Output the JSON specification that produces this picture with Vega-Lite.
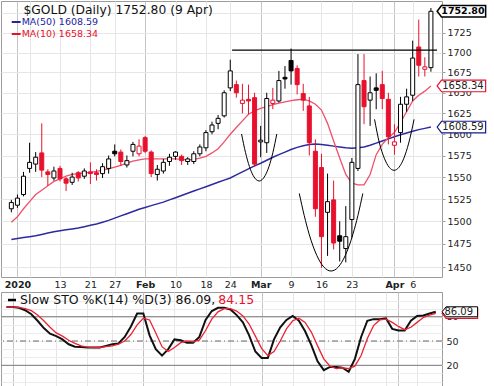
{
"$schema": "https://vega.github.io/schema/vega-lite/v6.json",
"padding": 0,
"background": "white",
"spacing": 2,
"config": {
 "font": "DejaVu Sans",
 "view": {"stroke": "#9c9c9c", "strokeWidth": 1},
 "axis": {"labelFont": "DejaVu Sans", "labelFontSize": 9.5, "labelColor": "#222222"},
 "axisX": {"labelOverlap": false},
 "axisY": {"labelOverlap": false}
},
"datasets": {
 "bars": [
{"i":-1,"date":"2019-12-31","o":1514,"h":1524,"l":1510,"c":1521,"ma10":1499,"ma50":1480,"k":92,"d":92},
{"i":0,"date":"2020-01-02","o":1518,"h":1530,"l":1515,"c":1526,"ma10":1505,"ma50":1481,"k":92,"d":92},
{"i":1,"date":"2020-01-03","o":1530,"h":1556,"l":1528,"c":1551,"ma10":1514,"ma50":1482,"k":91,"d":91.5},
{"i":2,"date":"2020-01-06","o":1560,"h":1590,"l":1555,"c":1567,"ma10":1522,"ma50":1483,"k":88,"d":90},
{"i":3,"date":"2020-01-07","o":1565,"h":1579,"l":1556,"c":1573,"ma10":1530,"ma50":1484,"k":83,"d":87.5},
{"i":4,"date":"2020-01-08","o":1578,"h":1613,"l":1550,"c":1558,"ma10":1535,"ma50":1485.5,"k":75,"d":82},
{"i":5,"date":"2020-01-09","o":1556,"h":1559,"l":1540,"c":1553,"ma10":1540,"ma50":1487,"k":66,"d":75},
{"i":6,"date":"2020-01-10","o":1549,"h":1562,"l":1546,"c":1557,"ma10":1545,"ma50":1488.5,"k":59,"d":67},
{"i":7,"date":"2020-01-13","o":1560,"h":1563,"l":1545,"c":1548,"ma10":1548,"ma50":1489.5,"k":56,"d":60},
{"i":8,"date":"2020-01-14","o":1548,"h":1550,"l":1534,"c":1543,"ma10":1551,"ma50":1490.5,"k":52,"d":56},
{"i":9,"date":"2020-01-15","o":1544,"h":1555,"l":1541,"c":1550,"ma10":1553,"ma50":1491.5,"k":46,"d":51},
{"i":10,"date":"2020-01-16","o":1555,"h":1557,"l":1545,"c":1549,"ma10":1554,"ma50":1492.5,"k":43,"d":47},
{"i":11,"date":"2020-01-17","o":1551,"h":1560,"l":1548,"c":1557,"ma10":1555,"ma50":1494,"k":42.5,"d":44},
{"i":12,"date":"2020-01-21","o":1556,"h":1567,"l":1542,"c":1554,"ma10":1555.5,"ma50":1495.5,"k":42,"d":42.5},
{"i":13,"date":"2020-01-22","o":1555,"h":1559,"l":1546,"c":1553,"ma10":1556.5,"ma50":1497,"k":42,"d":42},
{"i":14,"date":"2020-01-23","o":1554,"h":1566,"l":1549,"c":1562,"ma10":1558,"ma50":1499,"k":42,"d":42},
{"i":15,"date":"2020-01-24","o":1560,"h":1575,"l":1554,"c":1571,"ma10":1559.5,"ma50":1501,"k":44,"d":43},
{"i":16,"date":"2020-01-27","o":1580,"h":1588,"l":1574,"c":1577,"ma10":1561.5,"ma50":1503.5,"k":46,"d":44},
{"i":17,"date":"2020-01-28","o":1579,"h":1582,"l":1563,"c":1568,"ma10":1563.5,"ma50":1506,"k":47,"d":46},
{"i":18,"date":"2020-01-29","o":1564,"h":1575,"l":1561,"c":1569,"ma10":1566,"ma50":1508.5,"k":55,"d":50},
{"i":19,"date":"2020-01-30","o":1580,"h":1591,"l":1574,"c":1588,"ma10":1568.5,"ma50":1511,"k":68,"d":58},
{"i":20,"date":"2020-01-31","o":1577,"h":1594,"l":1574,"c":1586,"ma10":1570,"ma50":1513.5,"k":84,"d":70},
{"i":21,"date":"2020-02-03","o":1596,"h":1598,"l":1578,"c":1580,"ma10":1571,"ma50":1515.5,"k":84,"d":78},
{"i":22,"date":"2020-02-04","o":1579,"h":1581,"l":1550,"c":1554,"ma10":1571,"ma50":1517.5,"k":57,"d":76},
{"i":23,"date":"2020-02-05","o":1553,"h":1564,"l":1546,"c":1559,"ma10":1571,"ma50":1519.5,"k":40,"d":60},
{"i":24,"date":"2020-02-06","o":1557,"h":1571,"l":1554,"c":1567,"ma10":1571,"ma50":1521.5,"k":32,"d":43},
{"i":25,"date":"2020-02-07","o":1568,"h":1577,"l":1563,"c":1573,"ma10":1571,"ma50":1524,"k":40,"d":37},
{"i":26,"date":"2020-02-10","o":1574,"h":1580,"l":1570,"c":1579,"ma10":1571,"ma50":1526.5,"k":52,"d":42},
{"i":27,"date":"2020-02-11","o":1574,"h":1576,"l":1564,"c":1569,"ma10":1570.5,"ma50":1529,"k":51,"d":48},
{"i":28,"date":"2020-02-12","o":1568,"h":1573,"l":1564,"c":1571,"ma10":1570,"ma50":1531.5,"k":48,"d":50},
{"i":29,"date":"2020-02-13","o":1568,"h":1580,"l":1565,"c":1577,"ma10":1570.5,"ma50":1534,"k":48,"d":49},
{"i":30,"date":"2020-02-14","o":1577,"h":1588,"l":1574,"c":1585,"ma10":1572,"ma50":1536.5,"k":55,"d":51},
{"i":31,"date":"2020-02-18","o":1584,"h":1605,"l":1580,"c":1602,"ma10":1574,"ma50":1539,"k":76,"d":63},
{"i":32,"date":"2020-02-19","o":1603,"h":1615,"l":1600,"c":1611,"ma10":1578,"ma50":1541.5,"k":87,"d":77},
{"i":33,"date":"2020-02-20","o":1613,"h":1623,"l":1606,"c":1619,"ma10":1583,"ma50":1544,"k":91,"d":86},
{"i":34,"date":"2020-02-21","o":1622,"h":1653,"l":1620,"c":1650,"ma10":1591,"ma50":1546.5,"k":91,"d":90},
{"i":35,"date":"2020-02-24","o":1656,"h":1691,"l":1652,"c":1677,"ma10":1600,"ma50":1549,"k":89,"d":90},
{"i":36,"date":"2020-02-25","o":1660,"h":1665,"l":1644,"c":1650,"ma10":1608,"ma50":1552.5,"k":82,"d":87},
{"i":37,"date":"2020-02-26","o":1637,"h":1661,"l":1625,"c":1641,"ma10":1616,"ma50":1556,"k":73,"d":81},
{"i":38,"date":"2020-02-27","o":1642,"h":1660,"l":1624,"c":1640,"ma10":1624,"ma50":1559.5,"k":57,"d":71},
{"i":39,"date":"2020-02-28","o":1644,"h":1650,"l":1562,"c":1565,"ma10":1628,"ma50":1563,"k":37,"d":56},
{"i":40,"date":"2020-03-02","o":1591,"h":1610,"l":1573,"c":1593,"ma10":1631,"ma50":1566,"k":29,"d":41},
{"i":41,"date":"2020-03-03","o":1590,"h":1650,"l":1578,"c":1643,"ma10":1633,"ma50":1569.5,"k":29,"d":32},
{"i":42,"date":"2020-03-04","o":1637,"h":1656,"l":1630,"c":1641,"ma10":1635.5,"ma50":1573,"k":52,"d":37},
{"i":43,"date":"2020-03-05","o":1640,"h":1677,"l":1638,"c":1665,"ma10":1637.5,"ma50":1576,"k":67,"d":50},
{"i":44,"date":"2020-03-06","o":1669,"h":1683,"l":1655,"c":1667,"ma10":1639,"ma50":1579,"k":76,"d":65},
{"i":45,"date":"2020-03-09","o":1690,"h":1705,"l":1660,"c":1677,"ma10":1640.5,"ma50":1582,"k":81,"d":75},
{"i":46,"date":"2020-03-10","o":1680,"h":1684,"l":1648,"c":1660,"ma10":1641.5,"ma50":1584.5,"k":75,"d":78},
{"i":47,"date":"2020-03-11","o":1649,"h":1661,"l":1628,"c":1641,"ma10":1642,"ma50":1586.5,"k":62,"d":73},
{"i":48,"date":"2020-03-12","o":1634,"h":1645,"l":1575,"c":1590,"ma10":1640,"ma50":1588,"k":45,"d":61},
{"i":49,"date":"2020-03-13","o":1580,"h":1594,"l":1505,"c":1514,"ma10":1636,"ma50":1588.5,"k":25,"d":44},
{"i":50,"date":"2020-03-16","o":1561,"h":1577,"l":1449,"c":1483,"ma10":1629,"ma50":1588,"k":14,"d":28},
{"i":51,"date":"2020-03-17","o":1510,"h":1554,"l":1462,"c":1522,"ma10":1613,"ma50":1587,"k":18,"d":19},
{"i":52,"date":"2020-03-18","o":1524,"h":1546,"l":1469,"c":1476,"ma10":1592,"ma50":1586,"k":18,"d":16},
{"i":53,"date":"2020-03-19","o":1484,"h":1500,"l":1456,"c":1478,"ma10":1572,"ma50":1585,"k":17,"d":17},
{"i":54,"date":"2020-03-20","o":1470,"h":1517,"l":1455,"c":1483,"ma10":1553,"ma50":1584,"k":12,"d":16},
{"i":55,"date":"2020-03-23","o":1502,"h":1572,"l":1482,"c":1567,"ma10":1543,"ma50":1583.5,"k":28,"d":19},
{"i":56,"date":"2020-03-24","o":1560,"h":1698,"l":1557,"c":1660,"ma10":1541,"ma50":1584,"k":55,"d":32},
{"i":57,"date":"2020-03-25","o":1665,"h":1698,"l":1612,"c":1633,"ma10":1541,"ma50":1585,"k":75,"d":53},
{"i":58,"date":"2020-03-26","o":1641,"h":1670,"l":1610,"c":1650,"ma10":1553,"ma50":1587,"k":77,"d":69},
{"i":59,"date":"2020-03-27","o":1656,"h":1674,"l":1630,"c":1653,"ma10":1576,"ma50":1589.5,"k":77,"d":76},
{"i":60,"date":"2020-03-30","o":1660,"h":1677,"l":1630,"c":1643,"ma10":1588,"ma50":1592,"k":78,"d":77},
{"i":61,"date":"2020-03-31","o":1642,"h":1650,"l":1588,"c":1597,"ma10":1596,"ma50":1594.5,"k":65,"d":73},
{"i":62,"date":"2020-04-01","o":1587,"h":1612,"l":1576,"c":1591,"ma10":1602,"ma50":1597,"k":63,"d":68},
{"i":63,"date":"2020-04-02","o":1602,"h":1645,"l":1590,"c":1636,"ma10":1614,"ma50":1599.5,"k":63,"d":64},
{"i":64,"date":"2020-04-03","o":1636,"h":1655,"l":1627,"c":1645,"ma10":1627,"ma50":1601.5,"k":75,"d":67},
{"i":65,"date":"2020-04-06","o":1647,"h":1715,"l":1640,"c":1693,"ma10":1640,"ma50":1603.5,"k":81,"d":73},
{"i":66,"date":"2020-04-07","o":1707,"h":1742,"l":1670,"c":1684,"ma10":1647,"ma50":1605.5,"k":81.5,"d":79},
{"i":67,"date":"2020-04-08","o":1679,"h":1694,"l":1670,"c":1682,"ma10":1652,"ma50":1607,"k":84,"d":82},
{"i":68,"date":"2020-04-09","o":1681,"h":1757,"l":1676,"c":1752.8,"ma10":1658.34,"ma50":1608.59,"k":86.09,"d":84.15}
 ],
 "curves": [
{"g":1,"i":36.86,"p":1600.3},{"g":1,"i":37.51,"p":1578.4},{"g":1,"i":38.15,"p":1562.2},{"g":1,"i":38.79,"p":1551.5},{"g":1,"i":39.76,"p":1545.5},{"g":1,"i":40.72,"p":1551.5},{"g":1,"i":41.37,"p":1562.2},{"g":1,"i":42.01,"p":1578.4},{"g":1,"i":42.65,"p":1600.3},
{"g":2,"i":46.35,"p":1531.3},{"g":2,"i":47.16,"p":1506.6},{"g":2,"i":47.96,"p":1486.1},{"g":2,"i":49.24,"p":1462.4},{"g":2,"i":50.37,"p":1450.1},{"g":2,"i":51.58,"p":1445.7},{"g":2,"i":52.78,"p":1450.1},{"g":2,"i":53.91,"p":1462.4},{"g":2,"i":55.19,"p":1486.1},{"g":2,"i":56.0,"p":1506.6},{"g":2,"i":56.8,"p":1531.3},
{"g":3,"i":58.73,"p":1617.8},{"g":3,"i":59.53,"p":1589.6},{"g":3,"i":60.34,"p":1571.8},{"g":3,"i":61.14,"p":1561.3},{"g":3,"i":61.94,"p":1557.8},{"g":3,"i":62.75,"p":1561.3},{"g":3,"i":63.55,"p":1571.8},{"g":3,"i":64.35,"p":1589.6},{"g":3,"i":65.23,"p":1617.8}
 ]
},
"vconcat": [
 {
  "width": 441,
  "height": 276,
  "layer": [
   {"data": {"name": "bars"},
    "mark": {"type": "line", "color": "#2b2b9e", "strokeWidth": 1.5},
    "encoding": {
     "x": {"field": "i", "type": "quantitative", "title": null,
       "scale": {"domain": [-1.88, 69], "nice": false, "zero": false},
       "axis": {"values": [0,2,7,12,16,21,26,31,35,40,45,50,55,60,62,65], "tickCount": 40,
         "labelExpr": "['2020','','13','21','27','Feb','10','18','24','Mar','9','16','23','','Apr','6'][indexof([0,2,7,12,16,21,26,31,35,40,45,50,55,60,62,65], datum.value)]",
         "grid": true,
         "gridColor": {"condition": {"test": "indexof([0,21,40,62], datum.value) >= 0", "value": "#c4c4c4"}, "value": "#e6e6e6"},
         "labelFontWeight": {"condition": {"test": "indexof([0,21,40,62], datum.value) >= 0", "value": "bold"}, "value": "normal"},
         "ticks": false, "domain": false, "labelPadding": 2, "labelOverlap": false}},
     "y": {"field": "ma50", "type": "quantitative", "title": null,
       "scale": {"type": "log", "domain": [1439.3, 1766.2], "nice": false, "zero": false},
       "axis": {"orient": "right", "values": [1450,1475,1500,1525,1550,1575,1600,1625,1650,1675,1700,1725,1750], "tickCount": 40,
         "format": "d", "grid": true, "gridColor": "#e6e6e6", "domain": false, "tickSize": 3, "tickColor": "#a0a0a0", "labelPadding": 2}}
    }},
   {"data": {"name": "bars"},
    "mark": {"type": "line", "color": "#f0506a", "strokeWidth": 1.3},
    "encoding": {"x": {"field": "i", "type": "quantitative"}, "y": {"field": "ma10", "type": "quantitative"}}},
   {"data": {"name": "bars"},
    "transform": [{"window": [{"op": "lag", "field": "c", "as": "pc"}], "sort": [{"field": "i"}]}],
    "mark": {"type": "rule", "strokeWidth": 1},
    "encoding": {
     "x": {"field": "i", "type": "quantitative"},
     "y": {"field": "l", "type": "quantitative"},
     "y2": {"field": "h"},
     "color": {"condition": {"test": "datum.pc != null && datum.c < datum.pc", "value": "#e8112d"}, "value": "#000000"}}},
   {"data": {"name": "bars"},
    "transform": [{"window": [{"op": "lag", "field": "c", "as": "pc"}], "sort": [{"field": "i"}]}],
    "mark": {"type": "bar", "size": 4, "strokeWidth": 1},
    "encoding": {
     "x": {"field": "i", "type": "quantitative"},
     "y": {"field": "o", "type": "quantitative"},
     "y2": {"field": "c"},
     "stroke": {"condition": {"test": "datum.pc != null && datum.c < datum.pc", "value": "#e8112d"}, "value": "#000000"},
     "fill": {"condition": [{"test": "datum.c >= datum.o", "value": "#ffffff"}, {"test": "datum.pc != null && datum.c < datum.pc", "value": "#e8112d"}], "value": "#000000"}}},
   {"data": {"name": "curves"},
    "mark": {"type": "line", "color": "#000000", "strokeWidth": 1, "interpolate": "monotone"},
    "encoding": {"x": {"field": "i", "type": "quantitative"}, "y": {"field": "p", "type": "quantitative"}, "detail": {"field": "g"}}},
   {"data": {"values": [{}]},
    "mark": {"type": "rule", "color": "#000000", "strokeWidth": 1.2},
    "encoding": {"x": {"datum": 35.3}, "x2": {"datum": 69}, "y": {"datum": 1703}}},
   {"data": {"values": [{}]},
    "mark": {"type": "text", "text": "$GOLD (Daily) 1752.80 (9 Apr)", "align": "left", "baseline": "middle", "fontSize": 12.3, "color": "#111111"},
    "encoding": {"x": {"datum": 1.0}, "y": {"datum": 1754}}},
   {"data": {"values": [{}]},
    "mark": {"type": "rule", "color": "#2424a0", "strokeWidth": 2},
    "encoding": {"x": {"datum": -0.94}, "x2": {"datum": 0.53}, "y": {"datum": 1738.9}}},
   {"data": {"values": [{}]},
    "mark": {"type": "text", "text": "MA(50) 1608.59", "align": "left", "baseline": "middle", "fontSize": 9.5, "color": "#2424a0"},
    "encoding": {"x": {"datum": 0.69}, "y": {"datum": 1738.9}}},
   {"data": {"values": [{}]},
    "mark": {"type": "rule", "color": "#e8112d", "strokeWidth": 2},
    "encoding": {"x": {"datum": -0.94}, "x2": {"datum": 0.53}, "y": {"datum": 1723.5}}},
   {"data": {"values": [{}]},
    "mark": {"type": "text", "text": "MA(10) 1658.34", "align": "left", "baseline": "middle", "fontSize": 9.5, "color": "#e8112d"},
    "encoding": {"x": {"datum": 0.69}, "y": {"datum": 1723.5}}},
   {"data": {"values": [{}]},
    "mark": {"type": "point", "shape": "M1.13,0L1.93,-1.05L9.95,-1.05L9.95,1.05L1.93,1.05Z", "size": 121, "filled": true, "fill": "#ffffff", "stroke": "#1a1a8c", "strokeWidth": 1.2, "opacity": 1},
    "encoding": {"x": {"datum": 68}, "y": {"datum": 1608.59}}},
   {"data": {"values": [{}]},
    "mark": {"type": "text", "text": "1608.59", "align": "center", "baseline": "middle", "dx": 32, "fontSize": 10, "color": "#222222"},
    "encoding": {"x": {"datum": 68}, "y": {"datum": 1608.59}}},
   {"data": {"values": [{}]},
    "mark": {"type": "point", "shape": "M1.13,0L1.93,-1.05L9.95,-1.05L9.95,1.05L1.93,1.05Z", "size": 121, "filled": true, "fill": "#ffffff", "stroke": "#e8112d", "strokeWidth": 1.2, "opacity": 1},
    "encoding": {"x": {"datum": 68}, "y": {"datum": 1658.34}}},
   {"data": {"values": [{}]},
    "mark": {"type": "text", "text": "1658.34", "align": "center", "baseline": "middle", "dx": 32, "fontSize": 10, "color": "#222222"},
    "encoding": {"x": {"datum": 68}, "y": {"datum": 1658.34}}},
   {"data": {"values": [{}]},
    "mark": {"type": "point", "shape": "M1.13,0L1.93,-1.05L9.95,-1.05L9.95,1.05L1.93,1.05Z", "size": 121, "filled": true, "fill": "#ffffff", "stroke": "#000000", "strokeWidth": 1.5, "opacity": 1},
    "encoding": {"x": {"datum": 68}, "y": {"datum": 1752.8}}},
   {"data": {"values": [{}]},
    "mark": {"type": "text", "text": "1752.80", "align": "center", "baseline": "middle", "dx": 32, "fontSize": 9.5, "fontWeight": "bold", "color": "#000000"},
    "encoding": {"x": {"datum": 68}, "y": {"datum": 1752.8}}}
  ]
 },
 {
  "width": 441,
  "height": 96,
  "layer": [
   {"data": {"values": [{"v": 20}, {"v": 80}]},
    "mark": {"type": "rule", "color": "#7a7a7a", "strokeWidth": 1},
    "encoding": {"y": {"field": "v", "type": "quantitative", "title": null,
      "scale": {"domain": [-8, 110.5], "nice": false, "zero": false},
      "axis": {"orient": "right", "values": [0,10,20,30,40,50,60,70,80,90,100], "tickCount": 40,
        "labelExpr": "indexof([20,50,80], datum.value) >= 0 ? datum.label : ''",
        "grid": true, "gridColor": "#ececec", "ticks": false, "domain": false, "labelPadding": 4}}}},
   {"data": {"values": [{}]},
    "mark": {"type": "rule", "color": "#666666", "strokeWidth": 1, "strokeDash": [6, 3, 1, 3]},
    "encoding": {"y": {"datum": 50}}},
   {"data": {"name": "bars"},
    "mark": {"type": "line", "color": "#111111", "strokeWidth": 2},
    "encoding": {
     "x": {"field": "i", "type": "quantitative", "title": null,
       "scale": {"domain": [-1.88, 69], "nice": false, "zero": false},
       "axis": {"values": [0,2,7,12,16,21,26,31,35,40,45,50,55,60,62,65], "tickCount": 40, "labels": false, "ticks": false, "domain": false, "grid": true,
         "gridColor": {"condition": {"test": "indexof([0,21,40,62], datum.value) >= 0", "value": "#c4c4c4"}, "value": "#e6e6e6"}}},
     "y": {"field": "k", "type": "quantitative"}}},
   {"data": {"name": "bars"},
    "mark": {"type": "line", "color": "#ee2233", "strokeWidth": 1.3},
    "encoding": {"x": {"field": "i", "type": "quantitative"}, "y": {"field": "d", "type": "quantitative"}}},
   {"data": {"values": [{}]},
    "mark": {"type": "rule", "color": "#000000", "strokeWidth": 2.5},
    "encoding": {"x": {"datum": -0.76}, "x2": {"datum": 0.53}, "y": {"datum": 100.6}}},
   {"data": {"values": [{}]},
    "mark": {"type": "text", "text": "Slow STO %K(14) %D(3) 86.09,", "align": "left", "baseline": "middle", "fontSize": 12.5, "color": "#111111"},
    "encoding": {"x": {"datum": 1.17}, "y": {"datum": 100.6}}},
   {"data": {"values": [{}]},
    "mark": {"type": "text", "text": "84.15", "align": "left", "baseline": "middle", "fontSize": 12.5, "color": "#e8112d"},
    "encoding": {"x": {"datum": 33.05}, "y": {"datum": 100.6}}},
   {"data": {"values": [{}]},
    "mark": {"type": "point", "shape": "M1.26,0L2.06,-1L8.36,-1L8.36,1L2.06,1Z", "size": 100, "filled": true, "fill": "#ffffff", "stroke": "#e8112d", "strokeWidth": 1.2, "opacity": 1},
    "encoding": {"x": {"datum": 68}, "y": {"datum": 84.15}}},
   {"data": {"values": [{}]},
    "mark": {"type": "point", "shape": "M1.26,0L2.06,-1L8.36,-1L8.36,1L2.06,1Z", "size": 100, "filled": true, "fill": "#ffffff", "stroke": "#000000", "strokeWidth": 1, "opacity": 1},
    "encoding": {"x": {"datum": 68}, "y": {"datum": 86.09}}},
   {"data": {"values": [{}]},
    "mark": {"type": "text", "text": "86.09", "align": "center", "baseline": "middle", "dx": 23, "fontSize": 10, "color": "#222222"},
    "encoding": {"x": {"datum": 68}, "y": {"datum": 86.09}}}
  ]
 }
]
}
